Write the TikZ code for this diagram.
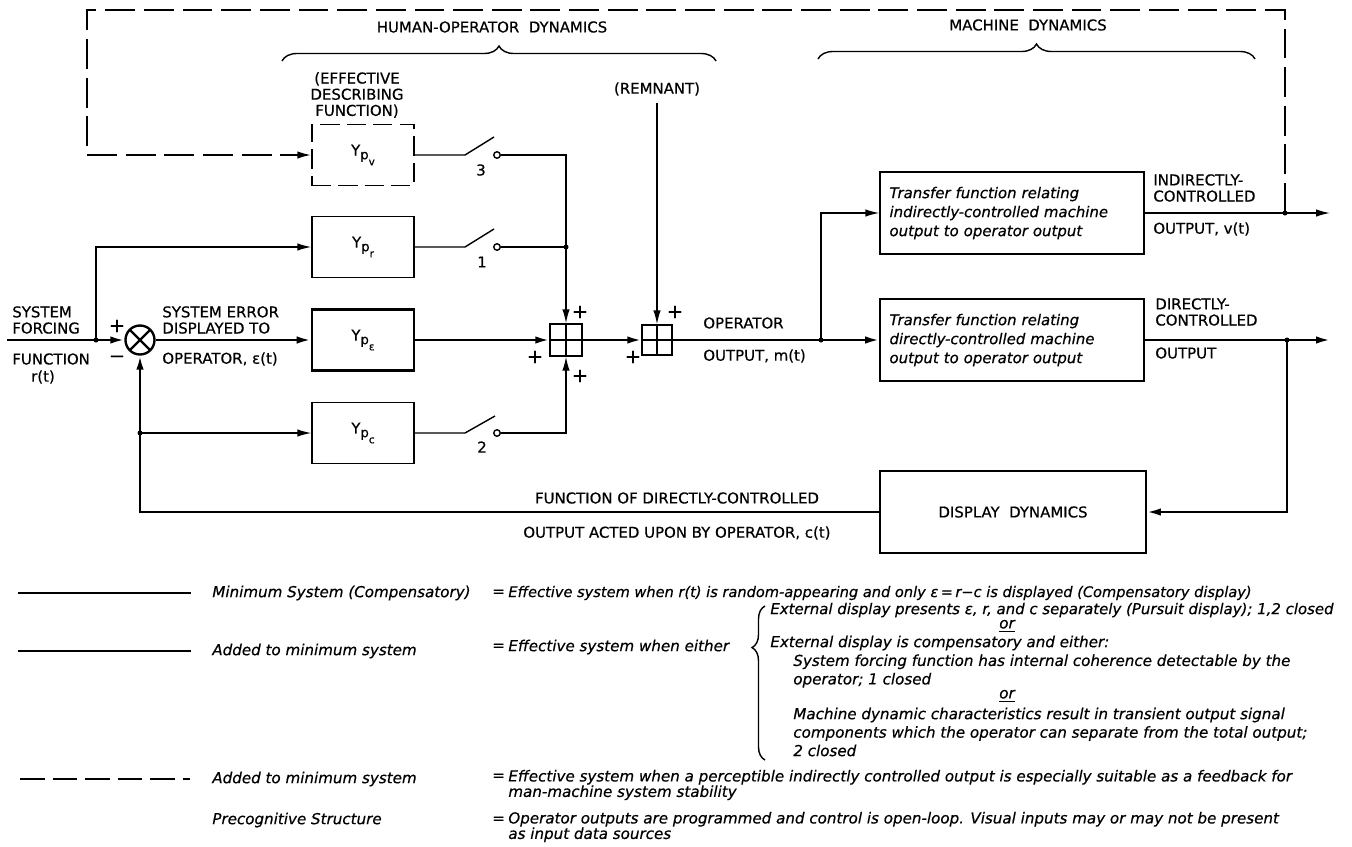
\documentclass[tikz,border=0pt]{standalone}
\usepackage{fontspec}
\setmainfont{DejaVu Sans}[UprightFeatures={FakeBold=0.5},ItalicFeatures={FakeBold=0.5}]
\usetikzlibrary{arrows.meta,positioning,decorations.pathreplacing}

% Y_p with sub-subscript
\newcommand{\ysub}[1]{Y\raisebox{-0.45ex}{\fontsize{7.5}{7.5}\selectfont p}\raisebox{-1.2ex}{\fontsize{6}{6}\selectfont #1}}

\tikzset{
  sig/.style={line width=0.8pt},
  mainsig/.style={line width=1.35pt},
  fbsig/.style={line width=1.1pt,dash pattern=on 17pt off 5pt},
  arr/.style={-{Latex[length=2.8mm,width=1.5mm]}},
  caps/.style={font=\fontsize{8.5}{9.2}\selectfont,inner sep=0pt},
  plus/.style={font=\fontsize{11}{11}\selectfont,inner sep=0pt},
  ypbox/.style={draw,sig,minimum width=2.04cm,minimum height=1.22cm,font=\fontsize{8.5}{9}\selectfont},
  tfbox/.style={draw,sig,minimum width=5.28cm,minimum height=1.64cm,text width=4.9cm,align=left,
    font=\fontsize{8.5}{10.8}\selectfont\itshape},
  mixer/.style={draw,circle,mainsig,minimum size=0.58cm,inner sep=0pt,
    path picture={\draw[mainsig] (path picture bounding box.north west) -- (path picture bounding box.south east)
      (path picture bounding box.north east) -- (path picture bounding box.south west);}},
  sumsq/.style={draw,sig,minimum size=0.64cm,inner sep=0pt,
    path picture={\draw[sig] (path picture bounding box.north) -- (path picture bounding box.south)
      (path picture bounding box.west) -- (path picture bounding box.east);}},
  dot/.style={circle,fill,inner sep=0pt,minimum size=0.1cm},
  contact/.style={circle,draw,sig,fill=white,inner sep=0pt,minimum size=0.13cm},
  leg/.style={font=\fontsize{8.6}{10.5}\selectfont\itshape,inner sep=0pt,anchor=west},
  legc/.style={font=\fontsize{8.6}{10.5}\selectfont\itshape,inner sep=0pt}
}

\begin{document}
\begin{tikzpicture}[x=0.02cm,y=-0.02cm]
\useasboundingbox (0,0) rectangle (1352,846);

% headings
\node[caps] (hum) at (492,27) {HUMAN-OPERATOR\ \ DYNAMICS};
\node[caps] (mach) at (1028,25) {MACHINE\ \ DYNAMICS};
\draw[sig,decorate,decoration={brace,amplitude=0.3cm}] (282,61) -- (716,61);
\draw[sig,decorate,decoration={brace,amplitude=0.3cm}] (818,59) -- (1255,59);

% operator blocks
\node[caps,align=center] (edf) at (357,95) {(EFFECTIVE\\DESCRIBING\\FUNCTION)};
\node[ypbox,dash pattern=on 11pt off 4pt] (ypv) at (363,155) {\ysub{v}};
\node[ypbox] (ypr) at (363,247) {\ysub{r}};
\node[ypbox,line width=1.5pt] (ype) at (363,340) {\ysub{ε}};
\node[ypbox] (ypc) at (363,433) {\ysub{c}};

\node[mixer] (mix) at (140,340) {};
\node[sumsq] (sq1) at (566,340) {};
\node[sumsq,minimum size=0.6cm] (sq2) at (657,340) {};

% machine blocks
\node[tfbox] (tf1) at (1012,213) {Transfer function relating\\indirectly-controlled machine\\output to operator output};
\node[tfbox,line width=1pt] (tf2) at (1012,340) {Transfer function relating\\directly-controlled machine\\output to operator output};
\node[draw,line width=1pt,minimum width=5.32cm,minimum height=1.64cm,caps] (disp) at (1013,512) {DISPLAY\ \ DYNAMICS};

% junctions, switches, free ends
\coordinate (in) at (7,340);
\node[dot] (j0) at (96,340) {};
\node[dot] (jc) at (140,433) {};
\coordinate (sw3) at (465,155);
\coordinate (sw1) at (465,247);
\coordinate (sw2) at (465,433);
\node[contact] (c3) at (497,155) {};
\node[contact] (c1) at (497,247) {};
\node[contact] (c2) at (497,433) {};
\node[dot] (j1) at (566,247) {};
\coordinate (rem) at (657,103);
\node[dot] (jm) at (821,340) {};
\node[dot] (jv) at (1285,213) {};
\node[dot] (jd) at (1287,340) {};
\coordinate (out1) at (1330,213);
\coordinate (out2) at (1330,340);
\coordinate (fbtop) at (87,10);

% minimum system
\draw[mainsig,arr] (in) -- (mix.west);
\draw[mainsig,arr] (mix) -- (ype);
\draw[mainsig,arr] (ype) -- (sq1);
\draw[mainsig,arr] (sq1) -- (sq2);
\draw[mainsig,arr] (sq2) -- (tf2);
\draw[mainsig,arr] (tf2) -- (out2);
\draw[mainsig,arr] (jd.center) |- (disp.east);
\draw[mainsig,arr] (disp.west) -| (mix.south);

% added paths
\draw[sig,arr] (j0.center) |- (ypr.west);
\draw[sig,arr] (jc.center) -- (ypc.west);
\draw[sig] (ypv.east) -- (sw3) -- ++(29,-18);
\draw[sig] (ypr.east) -- (sw1) -- ++(29,-18);
\draw[sig] (ypc.east) -- (sw2) -- ++(30,-17);
\draw[sig,arr] (c3.east) -| (sq1.north);
\draw[sig] (c1.east) -- (j1.center);
\draw[sig,arr] (c2.east) -| (sq1.south);
\draw[sig,arr] (rem) -- (sq2.north);
\draw[sig,arr] (jm.center) |- (tf1.west);
\draw[sig,arr] (tf1.east) -- (out1);
\draw[fbsig,arr] (jv.center) |- (fbtop) |- (ypv.west);

% signs
\node[plus] (mp) at (117,326) {+};
\node[plus] (mm) at (117,359) {−};
\node[plus] (pa) at (580,312) {+};
\node[plus] (pb) at (535,357) {+};
\node[plus] (pc) at (580,376) {+};
\node[plus] (pd) at (675,312) {+};
\node[plus] (pe) at (633,357) {+};
\node[caps] (n3) at (481,170) {3};
\node[caps] (n1) at (482,262) {1};
\node[caps] (n2) at (482,447) {2};

% signal labels
\node[caps,anchor=west,align=left] (sf) at (12,320) {SYSTEM\\FORCING};
\node[caps,anchor=west] (fn) at (12,359) {FUNCTION};
\node[caps] (rt) at (43,377) {r(t)};
\node[caps,anchor=west,align=left] (se) at (162,320) {SYSTEM ERROR\\DISPLAYED TO};
\node[caps,anchor=west] (eo) at (162,359) {OPERATOR, ε(t)};
\node[caps] (remlbl) at (657,89) {(REMNANT)};
\node[caps,anchor=west] (oo) at (703,323) {OPERATOR};
\node[caps,anchor=west] (om) at (703,356) {OUTPUT, m(t)};
\node[caps,anchor=west,align=left] (ic) at (1153,188) {INDIRECTLY-\\CONTROLLED};
\node[caps,anchor=west] (iv) at (1153,229) {OUTPUT, v(t)};
\node[caps,anchor=west,align=left] (dc) at (1155,312) {DIRECTLY-\\CONTROLLED};
\node[caps,anchor=west] (dout) at (1155,353) {OUTPUT};
\node[caps] (fdc) at (677,498) {FUNCTION OF DIRECTLY-CONTROLLED};
\node[caps,anchor=west] (oau) at (523,533) {OUTPUT ACTED UPON BY OPERATOR, c(t)};

% legend
\draw[mainsig] (18,593) -- (191,593);
\draw[sig] (18,651) -- (191,651);
\draw[line width=1.1pt,dash pattern=on 14pt off 4.5pt] (20,779) -- (190,779);
\node[leg] (l1) at (212,593) {Minimum System (Compensatory)};
\node[leg] (e1) at (492,593) {=};
\node[leg,font=\fontsize{8.3}{10.5}\selectfont\itshape] (t1) at (508,593) {Effective system when r(t) is random-appearing and only ε\,=\,r−c is displayed (Compensatory display)};
\node[leg] (l2) at (212,651) {Added to minimum system};
\node[leg] (e2) at (492,647) {=};
\node[leg] (t2) at (508,647) {Effective system when either};
\draw[sig,decorate,decoration={brace,amplitude=0.26cm,aspect=0.73}] (765,760) -- (765,606);
\node[leg,font=\fontsize{8.5}{10.5}\selectfont\itshape] (b1) at (770,610) {External display presents ε, r, and c separately (Pursuit display); 1,2 closed};
\node[legc] (or1) at (1007,626) {\underline{or}};
\node[leg] (b2) at (770,643) {External display is compensatory and either:};
\node[leg,align=left] (b3) at (793,671) {System forcing function has internal coherence detectable by the\\operator; 1 closed};
\node[legc] (or2) at (1007,696) {\underline{or}};
\node[leg,align=left] (b4) at (793,732) {Machine dynamic characteristics result in transient output signal\\components which the operator can separate from the total output;\\2 closed};
\node[leg] (l3) at (212,779) {Added to minimum system};
\node[leg] (e3) at (492,777) {=};
\node[leg,align=left,font=\fontsize{8.6}{8.8}\selectfont\itshape] (t3) at (508,785) {Effective system when a perceptible indirectly controlled output is especially suitable as a feedback for\\man-machine system stability};
\node[leg] (l4) at (212,820) {Precognitive Structure};
\node[leg] (e4) at (492,820) {=};
\node[leg,align=left,font=\fontsize{8.6}{8.8}\selectfont\itshape] (t4) at (508,827) {Operator outputs are programmed and control is open-loop. Visual inputs may or may not be present\\as input data sources};
\end{tikzpicture}
\end{document}
